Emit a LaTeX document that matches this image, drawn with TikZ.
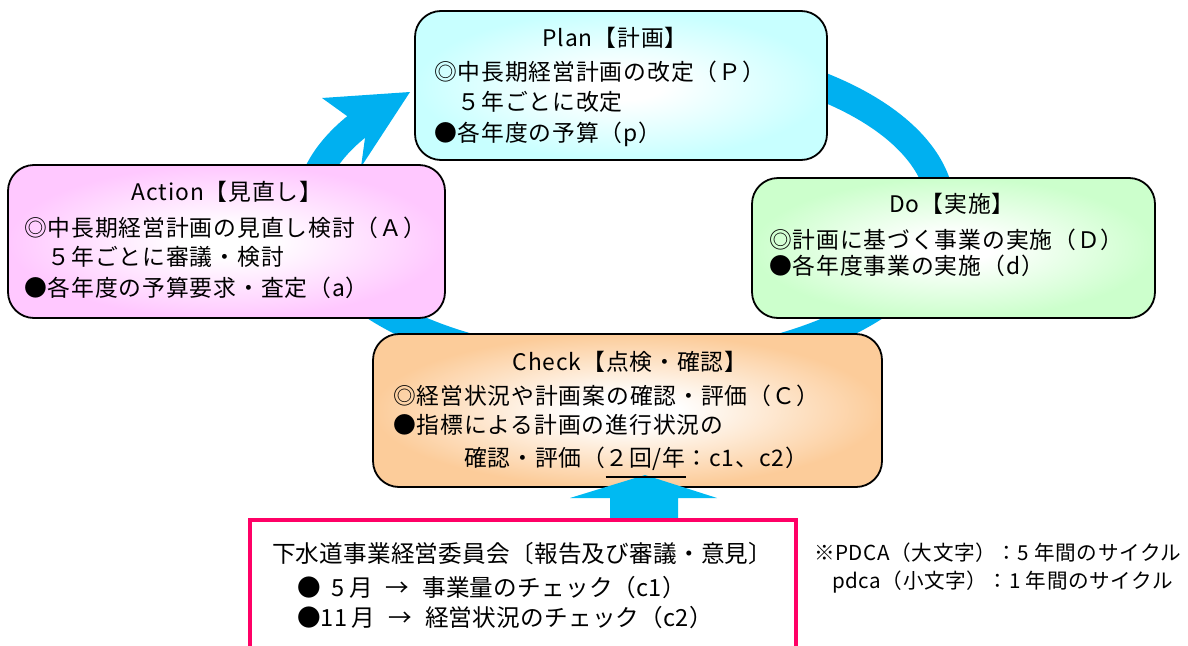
\documentclass[tikz,border=0pt]{standalone}
\usepackage{fontspec}
\setmainfont{Noto Sans CJK JP}
\usetikzlibrary{calc}
\definecolor{planC}{RGB}{200,255,255}
\definecolor{actC}{RGB}{255,200,255}
\definecolor{doC}{RGB}{204,255,204}
\definecolor{chkC}{RGB}{252,204,154}
\definecolor{ringC}{RGB}{0,176,240}
\definecolor{upC}{RGB}{0,186,242}
\definecolor{commC}{RGB}{255,0,102}
\pgfdeclareradialshading{planshade}{\pgfpoint{0bp}{0bp}}{color(0bp)=(white); color(5bp)=(white); color(25bp)=(planC); color(50bp)=(planC)}
\pgfdeclareradialshading{actshade}{\pgfpoint{0bp}{0bp}}{color(0bp)=(white); color(5bp)=(white); color(25bp)=(actC); color(50bp)=(actC)}
\pgfdeclareradialshading{doshade}{\pgfpoint{0bp}{0bp}}{color(0bp)=(white); color(5bp)=(white); color(25bp)=(doC); color(50bp)=(doC)}
\pgfdeclareradialshading{chkshade}{\pgfpoint{0bp}{0bp}}{color(0bp)=(white); color(5bp)=(white); color(25bp)=(chkC); color(50bp)=(chkC)}
\newsavebox\ulbox
\newcommand\myul[1]{\sbox\ulbox{#1}\rlap{\rule[-11pt]{\wd\ulbox}{1.6pt}}\usebox\ulbox}
\tikzset{
  box/.style={draw=black, line width=1.8pt, rounded corners=26pt, inner sep=0pt, outer sep=0pt, shade},
  txt/.style={inner sep=0pt, outer sep=0pt, font=\fontsize{22.8}{27}\selectfont\addfontfeatures{LetterSpace=4}, anchor=base west},
  ttl/.style={txt, anchor=base},
  ctxt/.style={txt, font=\fontsize{23.6}{28}\selectfont\addfontfeatures{LetterSpace=1}},
  ntxt/.style={txt, font=\fontsize{20.6}{25}\selectfont\addfontfeatures{LetterSpace=3}},
}
\begin{document}
\begin{tikzpicture}[x=1pt,y=-1pt]
\useasboundingbox (0,0) rectangle (1188,645);
\fill[white] (0,0) rectangle (1188,645);
% cycle ring
\draw[ringC, line width=28pt] plot[domain=250:574, samples=160, smooth] ({625+316*cos(\x)},{210+158*sin(\x)});
\fill[ringC] (410,92) -- (322,98) -- (347,116) -- (365,138) -- (361,167) -- cycle;
% boxes
\node[box, shading=planshade, minimum width=412pt, minimum height=149pt] (plan) at (621,85.5) {};
\node[box, shading=actshade, minimum width=437pt, minimum height=153pt] (act) at (226.5,241.5) {};
\node[box, shading=doshade, minimum width=403pt, minimum height=140pt] (do) at (953.5,248) {};
\node[box, shading=chkshade, minimum width=509pt, minimum height=153pt] (chk) at (627.5,410.5) {};
% up arrow
\fill[upC] (610,520) -- (610,498) -- (570,498) -- (645,475) -- (717,498) -- (678,498) -- (678,520) -- cycle;
% committee
\node[draw=commC, line width=3.5pt, minimum width=546pt, minimum height=180pt, inner sep=0pt] (comm) at (523,610) {};
% texts: Plan
\node[ttl] (planT) at (615,46.7) {Plan【計画】};
\node[txt] (planL1) at (434,80.7) {◎中長期経営計画の改定（Ｐ）};
\node[txt] (planL2) at (434,110.7) {　５年ごとに改定};
\node[txt] (planL3) at (434,141.7) {●各年度の予算（p）};
% Action
\node[ttl] (actT) at (227,200.7) {Action【見直し】};
\node[txt] (actL1) at (24,236.7) {◎中長期経営計画の見直し検討（Ａ）};
\node[txt] (actL2) at (24,265.7) {　５年ごとに審議・検討};
\node[txt] (actL3) at (24,296.7) {●各年度の予算要求・査定（a）};
% Do
\node[ttl] (doT) at (952,212.7) {Do【実施】};
\node[txt] (doL1) at (769,248.7) {◎計画に基づく事業の実施（Ｄ）};
\node[txt] (doL2) at (769,274.7) {●各年度事業の実施（d）};
% Check
\node[ttl] (chkT) at (630,370.7) {Check【点検・確認】};
\node[txt] (chkL1) at (393,404.7) {◎経営状況や計画案の確認・評価（Ｃ）};
\node[txt] (chkL2) at (393,433.7) {●指標による計画の進行状況の};
\node[txt] (chkL3) at (393,466.7) {　　　確認・評価（\myul{２回/年}：c1、c2）};
% Committee
\node[ctxt] (cm1) at (272,562) {下水道事業経営委員会〔報告及び審議・意見〕};
\node[ctxt] (cm2) at (297,596) {●\hspace{0.45em}5\hspace{0.2em}月\hspace{0.55em}→\hspace{0.55em}事業量のチェック（c1）};
\node[ctxt] (cm3) at (297,626) {●11\hspace{0.2em}月\hspace{0.55em}→\hspace{0.55em}経営状況のチェック（c2）};
% Notes
\node[ntxt] (n1) at (814,560) {※PDCA（大文字）：5 年間のサイクル};
\node[ntxt] (n2) at (832,588) {pdca（小文字）：1 年間のサイクル};
\end{tikzpicture}
\end{document}
